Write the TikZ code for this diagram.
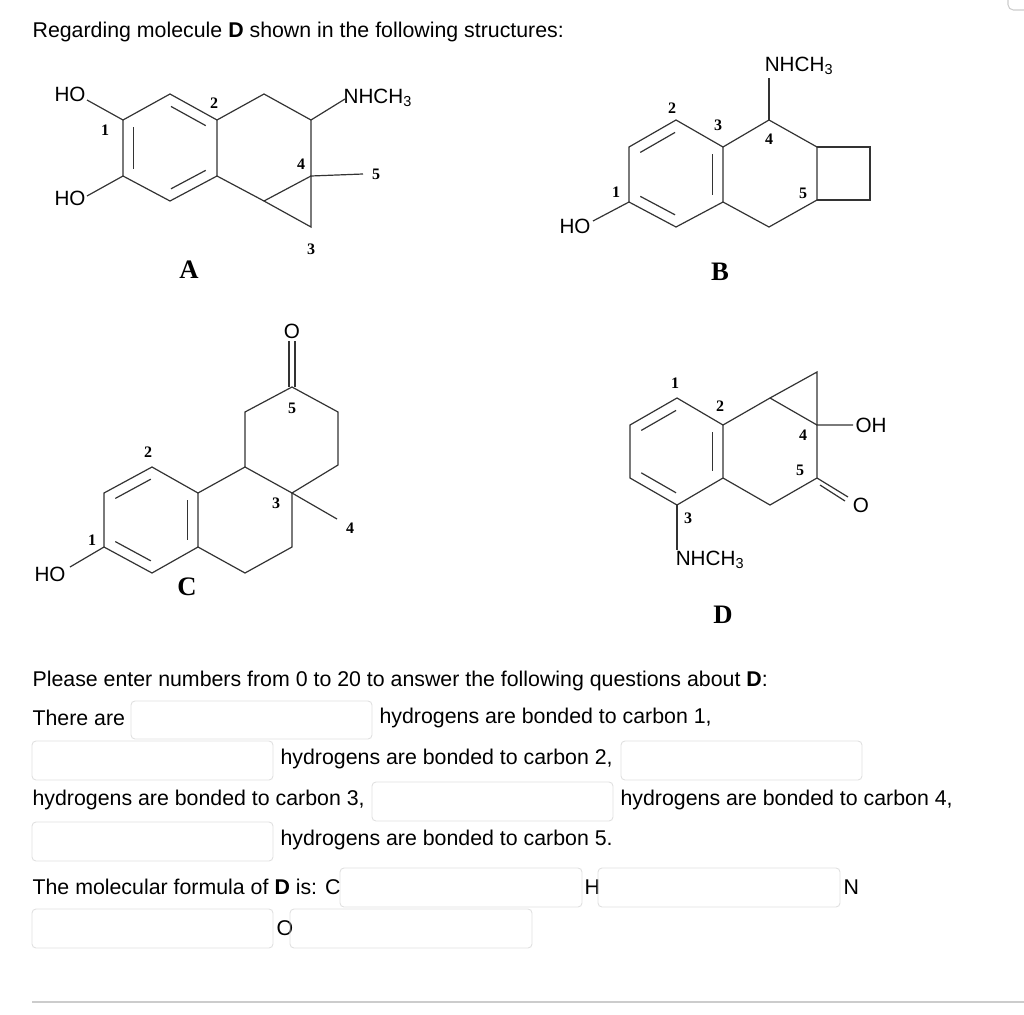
\documentclass[tikz,border=0pt]{standalone}
\usepackage{fontspec}
\setmainfont{Liberation Sans}
\newfontfamily\numfont{Liberation Serif}
\usetikzlibrary{calc}
\newcommand{\dbond}[3]{\path ($(#1)!0.5!(#2)$) coordinate (mtmp)
  ($(#1)!0.13!(#2)$) coordinate (ptmpa) ($(#1)!0.87!(#2)$) coordinate (ptmpb);
  \draw ($(ptmpa)+0.22*(#3)-0.22*(mtmp)$) -- ($(ptmpb)+0.22*(#3)-0.22*(mtmp)$);}
\begin{document}
\begin{tikzpicture}[x=0.75pt,y=-0.75pt,line width=0.9pt,
  lab/.style={inner sep=0pt,font=\fontsize{15.5}{17}\selectfont},
  num/.style={inner sep=0pt,font=\numfont\bfseries\fontsize{12}{13}\selectfont},
  big/.style={inner sep=0pt,font=\numfont\bfseries\fontsize{20}{22}\selectfont},
  txt/.style={inner sep=0pt,anchor=west,font=\fontsize{16}{18}\selectfont},
  field/.style={draw=black!12,line width=0.7pt,rounded corners=3pt}]
\useasboundingbox (0,0) rectangle (1024,1014);
\draw[black!20,line width=0.8pt,rounded corners=4pt] (1008,-5) -- (1008,10) -- (1030,10);
% ---------- A ----------
\coordinate (a1) at (123,120); \coordinate (a2) at (170,94); \coordinate (a3) at (217,120);
\coordinate (a4) at (217,176); \coordinate (a5) at (170,201); \coordinate (a6) at (123,176);
\coordinate (ac) at (170,148);
\coordinate (a7) at (264,94); \coordinate (a8) at (311,120); \coordinate (a9) at (311,176);
\coordinate (a10) at (264,201); \coordinate (a11) at (311,227); \coordinate (a12) at (363,174);
\coordinate (an) at (345,99); \coordinate (ah1) at (87,100); \coordinate (ah2) at (87,196);
\begin{scope}[black!80]
\draw (a1)--(a2)--(a3)--(a4)--(a5)--(a6)--cycle;
\dbond{a6}{a1}{ac}\dbond{a2}{a3}{ac}\dbond{a4}{a5}{ac}
\draw (a3)--(a7)--(a8)--(a9)--(a10)--(a4);
\draw (a10)--(a11)--(a9)--(a12);
\draw (a8)--(an); \draw (a1)--(ah1); \draw (a6)--(ah2);
\end{scope}
\node[lab] (hoA1) at (70,94) {HO};
\node[lab] (hoA2) at (70,198) {HO};
\node[lab,anchor=west] (nA) at (343,98) {NHCH\textsubscript{3}};
\node[num] at (105,130) {1}; \node[num] at (214,103) {2}; \node[num] at (311,249) {3};
\node[num] at (301,164) {4}; \node[num] at (376,174) {5};
\node[big] (lA) at (189,270) {A};
% ---------- B ----------
\coordinate (bA) at (676,120); \coordinate (bB) at (723,147); \coordinate (bC) at (723,202);
\coordinate (bD) at (676,227); \coordinate (bE) at (629,202); \coordinate (bF) at (629,147);
\coordinate (bc) at (676,174);
\coordinate (b4) at (769,120); \coordinate (bn) at (769,78);
\coordinate (bG) at (817,147); \coordinate (bH) at (817,200); \coordinate (bI) at (769,227);
\coordinate (bJ) at (870,147); \coordinate (bK) at (870,200); \coordinate (bh) at (593,221);
\begin{scope}[black!80]
\draw (bA)--(bB)--(bC)--(bD)--(bE)--(bF)--cycle;
\dbond{bF}{bA}{bc}\dbond{bB}{bC}{bc}\dbond{bE}{bD}{bc}
\draw (bB)--(b4)--(bG)--(bH)--(bI)--(bC);
\draw (bG)--(bJ)--(bK)--(bH);
\draw (b4)--(bn); \draw (bE)--(bh);
\end{scope}
\node[lab] (hoB) at (575,226) {HO};
\node[lab] (nB) at (799,66) {NHCH\textsubscript{3}};
\node[num] at (616,192) {1}; \node[num] at (672,108) {2}; \node[num] at (718,125) {3};
\node[num] at (769,139) {4}; \node[num] at (803,193) {5};
\node[big] (lB) at (720,272) {B};
% ---------- C ----------
\coordinate (cA) at (152,467); \coordinate (cB) at (198,493); \coordinate (cC) at (198,547);
\coordinate (cD) at (152,573); \coordinate (cE) at (104,547); \coordinate (cF) at (104,493);
\coordinate (cc) at (151,520);
\coordinate (cG) at (245,467); \coordinate (cH) at (292,493); \coordinate (cI) at (292,547);
\coordinate (cJ) at (245,573); \coordinate (cK) at (245,412); \coordinate (cL) at (292,387);
\coordinate (cM) at (338,412); \coordinate (cN) at (338,465); \coordinate (cm) at (337,519);
\coordinate (ch) at (70,567);
\begin{scope}[black!80]
\draw (cA)--(cB)--(cC)--(cD)--(cE)--(cF)--cycle;
\dbond{cF}{cA}{cc}\dbond{cB}{cC}{cc}\dbond{cE}{cD}{cc}
\draw (cB)--(cG)--(cH)--(cI)--(cJ)--(cC);
\draw (cG)--(cK)--(cL)--(cM)--(cN)--(cH)--(cm);
\draw (289,341)--(289,387); \draw (295,341)--(295,387);
\draw (cE)--(ch);
\end{scope}
\node[lab] (oC) at (292,331) {O};
\node[lab] (hoC) at (50,574) {HO};
\node[num] at (92,540) {1}; \node[num] at (148,452) {2}; \node[num] at (276,503) {3};
\node[num] at (350,528) {4}; \node[num] at (292,408) {5};
\node[big] (lC) at (187,587) {C};
% ---------- D ----------
\coordinate (dA) at (677,398); \coordinate (dB) at (723,425); \coordinate (dC) at (723,478);
\coordinate (dD) at (677,505); \coordinate (dE) at (630,478); \coordinate (dF) at (630,425);
\coordinate (dc) at (677,452);
\coordinate (dG) at (770,398); \coordinate (dH) at (817,425); \coordinate (dI) at (817,478);
\coordinate (dJ) at (770,505); \coordinate (dK) at (817,372);
\coordinate (dn) at (677,550); \coordinate (do) at (853,425); \coordinate (dO) at (848,497);
\begin{scope}[black!80]
\draw (dA)--(dB)--(dC)--(dD)--(dE)--(dF)--cycle;
\dbond{dF}{dA}{dc}\dbond{dB}{dC}{dc}\dbond{dE}{dD}{dc}
\draw (dB)--(dG)--(dH)--(dI)--(dJ)--(dC);
\draw (dG)--(dK)--(dH)--(do);
\draw (dI)--(dO); \draw (820,485)--(845,501);
\draw (dD)--(dn);
\end{scope}
\node[lab,anchor=west] (ohD) at (855,425) {OH};
\node[lab] (oD) at (861,505) {O};
\node[lab] (nD) at (710,560) {NHCH\textsubscript{3}};
\node[num] at (675,383) {1}; \node[num] at (720,406) {2}; \node[num] at (688,518) {3};
\node[num] at (803,435) {4}; \node[num] at (800,470) {5};
\node[big] (lD) at (723,615) {D};
% ---------- text ----------
\node[txt] at (32,32) {Regarding molecule \textbf{D} shown in the following structures:};
\node[txt] at (32,681) {Please enter numbers from 0 to 20 to answer the following questions about \textbf{D}:};
\node[txt] at (32,718) {There are};
\node[txt] at (379,718) {hydrogens are bonded to carbon 1,};
\node[txt] at (280,759) {hydrogens are bonded to carbon 2,};
\node[txt] at (32,800) {hydrogens are bonded to carbon 3,};
\node[txt] at (620,800) {hydrogens are bonded to carbon 4,};
\node[txt] at (280,840) {hydrogens are bonded to carbon 5.};
\node[txt] at (32,887) {The molecular formula of \textbf{D} is: C};
\node[txt] at (584,887) {H};
\node[txt] at (843,887) {N};
\node[txt] at (276,928) {O};
\draw[field] (131,701) rectangle (372,739);
\draw[field] (32,741) rectangle (273,780);
\draw[field] (621,741) rectangle (862,780);
\draw[field] (372,782) rectangle (613,821);
\draw[field] (32,822) rectangle (273,861);
\draw[field] (340,868) rectangle (582,907);
\draw[field] (598,868) rectangle (840,907);
\draw[field] (32,909) rectangle (273,948);
\draw[field] (290,909) rectangle (532,948);
\draw[black!20,line width=1pt] (32,1002) -- (1024,1002);
\end{tikzpicture}
\end{document}
